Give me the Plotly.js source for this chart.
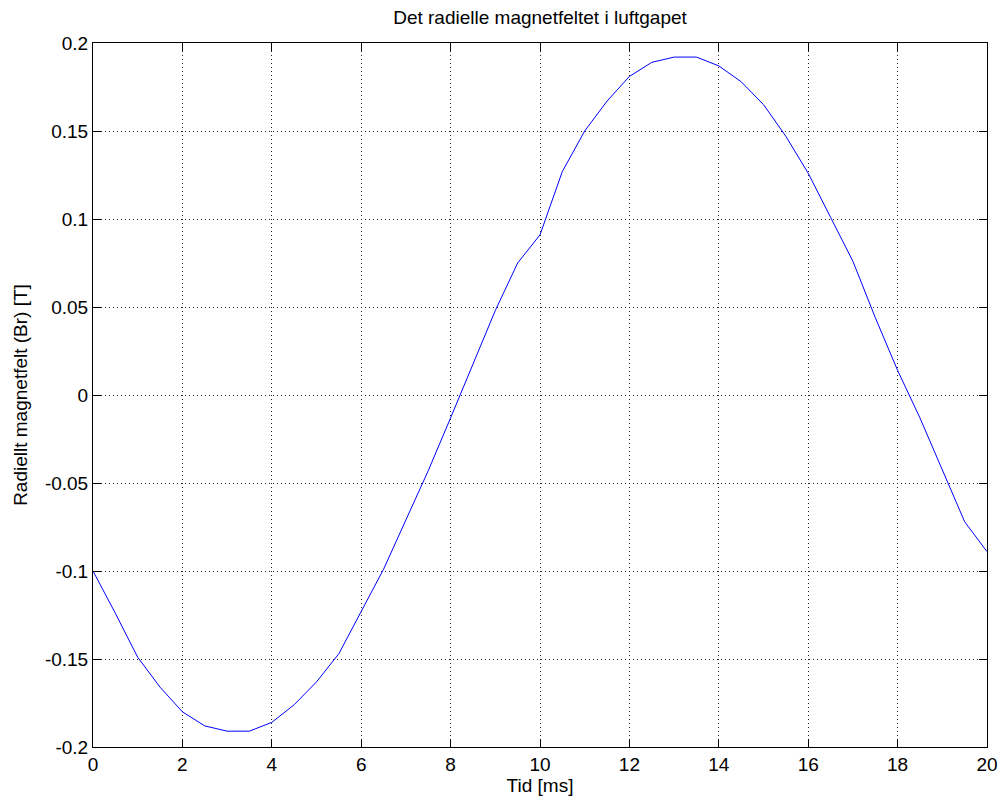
<!DOCTYPE html>
<html>
<head>
<meta charset="utf-8">
<script src="https://cdn.plot.ly/plotly-3.0.1.min.js"></script>
<style>html,body{margin:0;padding:0;background:#fff;}#chart{width:1000px;height:801px;}</style>
</head>
<body>
<div id="chart"></div>
<script>
var timeMs = [0, 0.5, 1, 1.5, 2, 2.5, 3, 3.5, 4, 4.5, 5, 5.5, 6, 6.5, 7, 7.5, 8, 8.5, 9, 9.5, 10,
              10.5, 11, 11.5, 12, 12.5, 13, 13.5, 14, 14.5, 15, 15.5, 16, 16.5, 17, 17.5, 18, 18.5, 19, 19.5, 20];
var brField = [-0.100, -0.124, -0.149, -0.166, -0.180, -0.188, -0.191, -0.191, -0.186, -0.176, -0.163,
               -0.147, -0.123, -0.099, -0.071, -0.043, -0.013, 0.017, 0.048, 0.075, 0.091,
               0.127, 0.150, 0.167, 0.181, 0.189, 0.192, 0.192, 0.187, 0.178, 0.165,
               0.147, 0.126, 0.101, 0.076, 0.044, 0.014, -0.013, -0.043, -0.072, -0.089];
var xTickVals = [0, 2, 4, 6, 8, 10, 12, 14, 16, 18, 20];
var xTickText = ["0", "2", "4", "6", "8", "10", "12", "14", "16", "18", "20"];
var yTickVals = [-0.2, -0.15, -0.1, -0.05, 0, 0.05, 0.1, 0.15, 0.2];
var yTickText = ["-0.2", "-0.15", "-0.1", "-0.05", "0", "0.05", "0.1", "0.15", "0.2"];

var FONT = "Liberation Sans, Arial, Helvetica, sans-serif";
var FS = 19;

var trace = {
  x: timeMs, y: brField, type: "scatter", mode: "lines",
  line: {color: "#0000ff", width: 1}, hoverinfo: "skip"
};

var axisCommon = {
  showline: true, linecolor: "#000", linewidth: 1, mirror: "ticks",
  ticks: "inside", ticklen: 8, tickwidth: 1, tickcolor: "#000",
  showgrid: true, gridcolor: "#222", griddash: "1px,3px", gridwidth: 1,
  zeroline: false, tickfont: {family: FONT, size: FS, color: "#000"}
};

var layout = {
  width: 1000, height: 801,
  margin: {l: 93, r: 13, t: 43, b: 54},
  paper_bgcolor: "#fff", plot_bgcolor: "#fff",
  showlegend: false,
  font: {family: FONT, size: FS, color: "#000"},
  title: {text: "Det radielle magnetfeltet i luftgapet", font: {family: FONT, size: FS, color: "#000"},
          x: 0.54, xanchor: "center", y: 0.978, yanchor: "middle"},
  xaxis: Object.assign({}, axisCommon, {
    range: [0, 20], tickmode: "array", tickvals: xTickVals, ticktext: xTickText,
    title: {text: "Tid [ms]", font: {family: FONT, size: FS, color: "#000"}, standoff: 4}
  }),
  yaxis: Object.assign({}, axisCommon, {
    range: [-0.2, 0.2], tickmode: "array", tickvals: yTickVals, ticktext: yTickText,
    title: {text: "Radiellt magnetfelt (Br) [T]", font: {family: FONT, size: FS, color: "#000"}, standoff: 12}
  })
};

Plotly.newPlot("chart", [trace], layout, {staticPlot: true, displayModeBar: false});
</script>
</body>
</html>
